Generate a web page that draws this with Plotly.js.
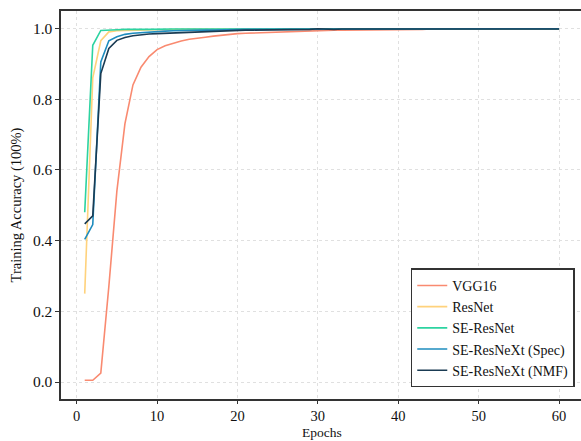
<!DOCTYPE html>
<html>
<head>
<meta charset="utf-8">
<script src="https://cdn.plot.ly/plotly-3.0.1.min.js"></script>
<style>html,body{margin:0;padding:0;background:#fff;}#chart{width:581px;height:441px;}</style>
</head>
<body>
<div id="chart"></div>
<script>
const epochs = [1,2,3,4,5,6,7,8,9,10,11,12,13,14,15,16,17,18,19,20,21,22,23,24,25,26,27,28,29,30,31,32,33,34,35,36,37,38,39,40,41,42,43,44,45,46,47,48,49,50,51,52,53,54,55,56,57,58,59,60];

const vgg16 = [0.005,0.005,0.025,0.27,0.54,0.73,0.84,0.89,0.92,0.94,
  0.951,0.958,0.964,0.969,0.973,0.975,0.978,0.981,0.983,0.985,
  0.986,0.987,0.988,0.989,0.990,0.991,0.992,0.992,0.993,0.994,
  0.994,0.995,0.995,0.995,0.996,0.996,0.996,0.996,0.997,0.997,
  0.997,0.997,0.997,0.998,0.997,0.998,0.998,0.997,0.998,0.998,
  0.998,0.998,0.998,0.998,0.998,0.999,0.998,0.998,0.999,0.998];

const resnet = [0.25,0.86,0.965,0.99,0.993,0.994,0.995,0.995,0.996,0.996,
  0.996,0.997,0.997,0.997,0.997,0.997,0.998,0.997,0.998,0.998,
  0.998,0.998,0.998,0.998,0.998,0.998,0.998,0.999,0.998,0.998,
  0.998,0.999,0.998,0.998,0.999,0.998,0.998,0.999,0.998,0.999,
  0.998,0.999,0.999,0.998,0.999,0.999,0.998,0.999,0.999,0.999,
  0.998,0.999,0.999,0.999,0.999,0.998,0.999,0.999,0.999,0.999];

const seResnet = [0.48,0.952,0.994,0.996,0.996,0.997,0.996,0.997,0.997,0.998,
  0.997,0.998,0.998,0.998,0.998,0.998,0.998,0.998,0.999,0.998,
  0.998,0.999,0.998,0.999,0.998,0.998,0.999,0.998,0.999,0.999,
  0.998,0.999,0.999,0.998,0.999,0.999,0.999,0.998,0.999,0.999,
  0.999,0.998,0.999,0.999,0.999,0.999,0.998,0.999,0.999,0.999,
  0.999,0.999,0.998,0.999,0.999,0.999,0.999,0.999,0.999,0.999];

const seResnextSpec = [0.403,0.445,0.905,0.965,0.976,0.983,0.986,0.988,0.990,0.991,
  0.992,0.993,0.994,0.994,0.995,0.995,0.995,0.996,0.996,0.996,
  0.997,0.997,0.997,0.997,0.997,0.998,0.997,0.998,0.998,0.998,
  0.998,0.998,0.998,0.998,0.998,0.999,0.998,0.998,0.998,0.999,
  0.998,0.998,0.999,0.998,0.999,0.998,0.999,0.998,0.999,0.999,
  0.998,0.999,0.999,0.998,0.999,0.999,0.999,0.998,0.999,0.999];

const seResnextNmf = [0.447,0.47,0.872,0.943,0.966,0.974,0.979,0.982,0.984,0.985,
  0.986,0.987,0.988,0.989,0.990,0.991,0.992,0.993,0.994,0.994,
  0.995,0.995,0.995,0.996,0.996,0.996,0.996,0.997,0.997,0.999,
  0.997,0.997,0.998,0.998,0.998,0.998,0.998,0.998,0.998,0.998,
  0.998,0.998,0.998,0.998,0.998,0.998,0.998,0.998,0.998,0.998,
  0.998,0.998,0.998,0.998,0.998,0.998,0.998,0.998,0.998,0.998];

const names = ['VGG16','ResNet','SE-ResNet','SE-ResNeXt (Spec)','SE-ResNeXt (NMF)'];
const series = [vgg16, resnet, seResnet, seResnextSpec, seResnextNmf];
const colors = ['#F98A70','#FFD27C','#2DD3A1','#1E8CBE','#1A3B53'];
const xTitle = 'Epochs';
const yTitle = 'Training Accuracy (100%)';

const traces = series.map((ys, i) => ({
  x: epochs, y: ys, name: names[i], type: 'scatter', mode: 'lines',
  line: {color: colors[i], width: 1.6}
}));

const fam = '"Liberation Serif", "Times New Roman", serif';
const tickFont = {family: fam, size: 15.5, color: '#111'};
const xTickFont = {family: fam, size: 14.5, color: '#111'};
const titleFont = {family: fam, size: 14.5, color: '#111'};
const xTitleFont = {family: fam, size: 13.5, color: '#111'};
const legendFont = {family: fam, size: 14, color: '#111'};

const layout = {
  width: 581, height: 441,
  margin: {l: 61, r: 0, t: 11, b: 42, pad: 0},
  paper_bgcolor: '#fff', plot_bgcolor: '#fff',
  font: tickFont,
  showlegend: true,
  xaxis: {
    range: [-1.95, 62.73], tickmode: 'linear', tick0: 0, dtick: 10,
    showgrid: true, gridcolor: '#e0e0e0', griddash: 'dot', gridwidth: 1,
    zeroline: false, showline: true, linecolor: '#333', linewidth: 1.6, mirror: true,
    ticks: 'outside', ticklen: 3, tickcolor: '#333', tickwidth: 1,
    tickfont: xTickFont
  },
  yaxis: {
    range: [-0.048, 1.049], tickmode: 'linear', tick0: 0, dtick: 0.2, tickformat: '.1f',
    showgrid: true, gridcolor: '#e0e0e0', griddash: 'dot', gridwidth: 1,
    zeroline: false, showline: true, linecolor: '#333', linewidth: 1.6, mirror: false,
    ticks: 'outside', ticklen: 4, tickcolor: '#333', tickwidth: 1,
    tickfont: tickFont,
    title: {text: yTitle, font: titleFont, standoff: 8}
  },
  annotations: [{
    text: xTitle, xref: 'paper', yref: 'paper', x: 0.502, y: -0.108,
    xanchor: 'center', yanchor: 'bottom', showarrow: false, font: xTitleFont,
    borderpad: 0
  }],
  legend: {
    x: 0.988, y: 0.03, xanchor: 'right', yanchor: 'bottom',
    bgcolor: '#fff', bordercolor: '#333', borderwidth: 1.5,
    font: legendFont, itemwidth: 30, tracegroupgap: 0
  }
};

Plotly.newPlot('chart', traces, layout, {displayModeBar: false, staticPlot: true});
</script>
</body>
</html>
